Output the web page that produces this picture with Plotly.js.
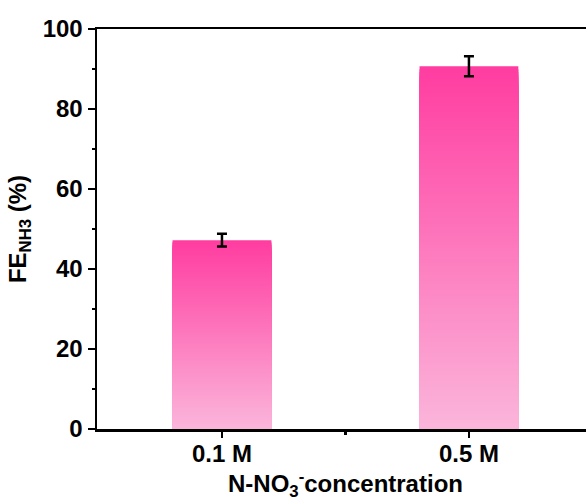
<!DOCTYPE html>
<html>
<head>
<meta charset="utf-8">
<script src="https://cdn.plot.ly/plotly-3.0.1.min.js"></script>
<style>
  html, body { margin: 0; padding: 0; background: #fff; }
  #chart { width: 586px; height: 501px; }
</style>
</head>
<body>
<div id="chart"></div>
<script>
// Faradaic efficiency of NH3 at two nitrate concentrations
const categories = ['0.1 M', '0.5 M'];
const feNH3 = [47.2, 90.7];
const feErr = [1.6, 2.5];

// Vertical gradient for each bar: light pink at the base, hot pink at the top
const colorBottom = [251, 182, 219];
const colorTop = [255, 60, 160];
const SEGMENTS = 120;

function mix(t) {
  const c = colorBottom.map((b, i) => Math.round(b + (colorTop[i] - b) * t));
  return 'rgb(' + c.join(',') + ')';
}

// Each bar is painted as nested layers: the full-height top-coloured layer first,
// then shorter, lighter layers over it, so the layers overlap without seams.
const xIdx = categories.map((_, i) => i);
const segX = [], segLen = [], segColor = [];
for (let k = SEGMENTS - 1; k >= 0; k--) {
  xIdx.forEach((xi, i) => {
    segX.push(xi);
    segLen.push(feNH3[i] * (k + 1) / SEGMENTS);
    segColor.push(mix((k + 0.5) / SEGMENTS));
  });
}

const bars = {
  type: 'bar',
  x: segX,
  y: segLen,
  width: 0.4,
  marker: { color: segColor, line: { width: 0 } },
  hoverinfo: 'skip',
  showlegend: false
};

const errors = {
  type: 'scatter',
  mode: 'markers',
  x: xIdx,
  y: feNH3,
  marker: { size: 1, color: 'rgba(0,0,0,0)' },
  error_y: { type: 'data', array: feErr, visible: true, color: '#000', thickness: 2.5, width: 5 },
  showlegend: false
};

const font = { family: 'Liberation Sans, Arial, sans-serif', size: 24, color: '#000', weight: 'bold' };

const layout = {
  width: 586,
  height: 501,
  margin: { l: 97, r: 0, t: 29, b: 72 },
  paper_bgcolor: '#fff',
  plot_bgcolor: '#fff',
  barmode: 'overlay',
  font: font,
  xaxis: {
    range: [-0.506, 1.474],
    tickmode: 'array',
    tickvals: xIdx,
    ticktext: categories,
    ticks: 'outside',
    ticklen: 6,
    tickwidth: 2.5,
    tickcolor: '#000',
    ticklabelstandoff: -4,
    minor: { tickmode: 'array', tickvals: [0.5], ticks: 'outside', ticklen: 3, tickwidth: 2.5, tickcolor: '#000' },
    showline: true,
    linewidth: 2.5,
    linecolor: '#000',
    mirror: true,
    showgrid: false,
    zeroline: false,
    tickfont: font,
    fixedrange: true
  },
  yaxis: {
    range: [0, 100],
    tickmode: 'linear',
    tick0: 0,
    dtick: 20,
    ticks: 'outside',
    ticklen: 7,
    tickwidth: 2.5,
    tickcolor: '#000',
    minor: { dtick: 10, ticks: 'outside', ticklen: 3, tickwidth: 2.5, tickcolor: '#000' },
    showline: true,
    linewidth: 2.5,
    linecolor: '#000',
    showgrid: false,
    zeroline: false,
    tickfont: font,
    title: { text: 'FE<sub>NH3</sub> (%)', font: font, standoff: 10 },
    fixedrange: true
  },
  annotations: [{
    xref: 'x', yref: 'paper',
    x: 0.5, y: 0,
    yshift: -55,
    yanchor: 'middle',
    showarrow: false,
    text: 'N-NO<sub>3</sub><sup>-</sup>concentration',
    font: font
  }]
};

Plotly.newPlot('chart', [bars, errors], layout, { displayModeBar: false, staticPlot: true });
</script>
</body>
</html>
